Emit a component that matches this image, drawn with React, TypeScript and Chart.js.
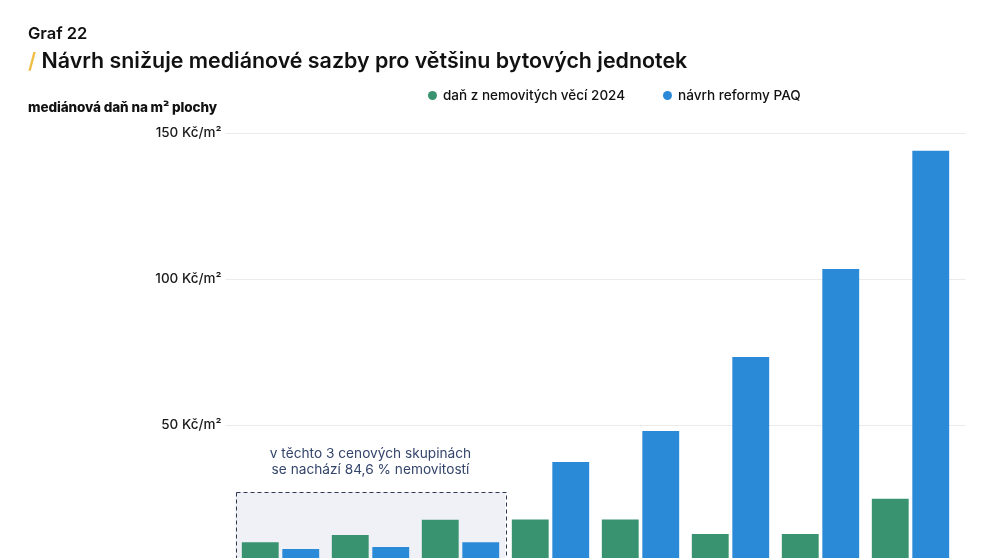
import React, { useEffect, useRef } from "react";
import { Chart, registerables } from "chart.js";

Chart.register(...registerables);

const categories = ["1. skupina", "2. skupina", "3. skupina", "4. skupina", "5. skupina", "6. skupina", "7. skupina", "8. skupina"];
const tax2024 = [10.0, 12.5, 17.7, 17.8, 17.8, 12.8, 12.8, 24.9];
const reformPAQ = [7.7, 8.4, 10.0, 37.5, 48.1, 73.4, 103.5, 143.9];
const yTickValues = [0, 50, 100, 150];
const seriesNames = ["daň z nemovitých věcí 2024", "návrh reformy PAQ"];
const highlightFirst = 0;
const highlightLast = 2;
const highlightTop = 27.2;
const highlightText = ["v těchto 3 cenových skupinách", "se nachází 84,6 % nemovitostí"];

const GREEN = "#3a9370";
const BLUE = "#2b8ad8";
const FONT = "Inter, 'Noto Sans', sans-serif";

const gridAndBoxPlugin = {
  id: "gridAndBox",
  beforeDatasetsDraw(chart: any) {
    const { ctx, chartArea, scales } = chart;
    const y = scales.y;
    const x = scales.x;
    ctx.save();
    ctx.strokeStyle = "#ebebeb";
    ctx.lineWidth = 1;
    for (const v of yTickValues) {
      const py = Math.round(y.getPixelForValue(v)) + 0.5;
      ctx.beginPath();
      ctx.moveTo(chartArea.left - 10, py);
      ctx.lineTo(chartArea.right + 10, py);
      ctx.stroke();
    }
    const catW = x.getPixelForValue(1) - x.getPixelForValue(0);
    const left = x.getPixelForValue(highlightFirst) - catW / 2;
    const right = x.getPixelForValue(highlightLast) + catW / 2;
    const top = y.getPixelForValue(highlightTop);
    const bottom = y.getPixelForValue(0) + 20;
    ctx.fillStyle = "#f0f1f7";
    ctx.fillRect(left, top, right - left, bottom - top);
    ctx.setLineDash([4, 3]);
    ctx.strokeStyle = "#2e3850";
    ctx.lineWidth = 1;
    ctx.strokeRect(Math.round(left) + 0.5, Math.round(top) + 0.5, Math.round(right - left), bottom - top);
    ctx.setLineDash([]);
    ctx.fillStyle = "#34456b";
    ctx.font = `400 13.7px ${FONT}`;
    ctx.textAlign = "center";
    ctx.textBaseline = "middle";
    const cx = (left + right) / 2;
    ctx.fillText(highlightText[0], cx, top - 38.5);
    ctx.fillText(highlightText[1], cx, top - 22.5);
    ctx.restore();
  },
};

function ChartCanvas() {
  const ref = useRef<HTMLCanvasElement | null>(null);
  useEffect(() => {
    if (!ref.current) return;
    const chart = new Chart(ref.current, {
      type: "bar",
      data: {
        labels: categories,
        datasets: [
          { label: seriesNames[0], data: tax2024, backgroundColor: GREEN, borderWidth: 0 },
          { label: seriesNames[1], data: reformPAQ, backgroundColor: BLUE, borderWidth: 0 },
        ],
      },
      options: {
        animation: false,
        responsive: false,
        devicePixelRatio: 1,
        layout: { padding: { left: 0, right: 35.5, top: 133, bottom: 28.5 } },
        datasets: { bar: { categoryPercentage: 0.9, barPercentage: 0.91 } },
        plugins: { legend: { display: false }, tooltip: { enabled: false } },
        scales: {
          x: { display: false, offset: true },
          y: {
            min: 0,
            max: 150,
            afterFit(scale: any) {
              scale.width = 235.5;
            },
            afterBuildTicks(scale: any) {
              scale.ticks = yTickValues.map((v) => ({ value: v }));
            },
            grid: { display: false, drawTicks: false },
            border: { display: false },
            ticks: {
              padding: 14,
              color: "#1a1a1a",
              font: { family: FONT, size: 13.5, weight: 500 },
              callback: (v: any) => `${v} Kč/m²`,
            },
          },
        },
      },
      plugins: [gridAndBoxPlugin],
    });
    return () => chart.destroy();
  }, []);
  return <canvas ref={ref} width={991} height={600} style={{ position: "absolute", left: 0, top: 0 }} />;
}

export default function App() {
  const text: React.CSSProperties = { position: "absolute", fontFamily: FONT, color: "#111", whiteSpace: "nowrap" };
  const dot = (c: string): React.CSSProperties => ({
    display: "inline-block",
    width: 9,
    height: 9,
    borderRadius: "50%",
    background: c,
    marginRight: 6,
    verticalAlign: "middle",
    position: "relative",
    top: -1,
  });
  return (
    <div style={{ position: "absolute", left: 0, top: 0, width: 991, height: 558, overflow: "hidden", background: "#fff" }}>
      <ChartCanvas />
      <div style={{ ...text, left: 28, top: 23, fontSize: 16.5, lineHeight: "20px", fontWeight: 600 }}>Graf 22</div>
      <div style={{ ...text, left: 28, top: 47, fontSize: 21.4, lineHeight: "26px", fontWeight: 600 }}>
        <span style={{ color: "#f0bd45" }}>/</span> Návrh snižuje mediánové sazby pro většinu bytových jednotek
      </div>
      <div style={{ ...text, left: 28, top: 99, fontSize: 13.5, lineHeight: "16px", fontWeight: 800, letterSpacing: -0.1 }}>
        mediánová daň na m² plochy
      </div>
      <div style={{ ...text, left: 428, top: 87, fontSize: 13.5, lineHeight: "16px", fontWeight: 500 }}>
        <span style={dot(GREEN)} />
        {seriesNames[0]}
      </div>
      <div style={{ ...text, left: 663, top: 87, fontSize: 13.6, lineHeight: "16px", fontWeight: 500 }}>
        <span style={dot(BLUE)} />
        {seriesNames[1]}
      </div>
    </div>
  );
}
